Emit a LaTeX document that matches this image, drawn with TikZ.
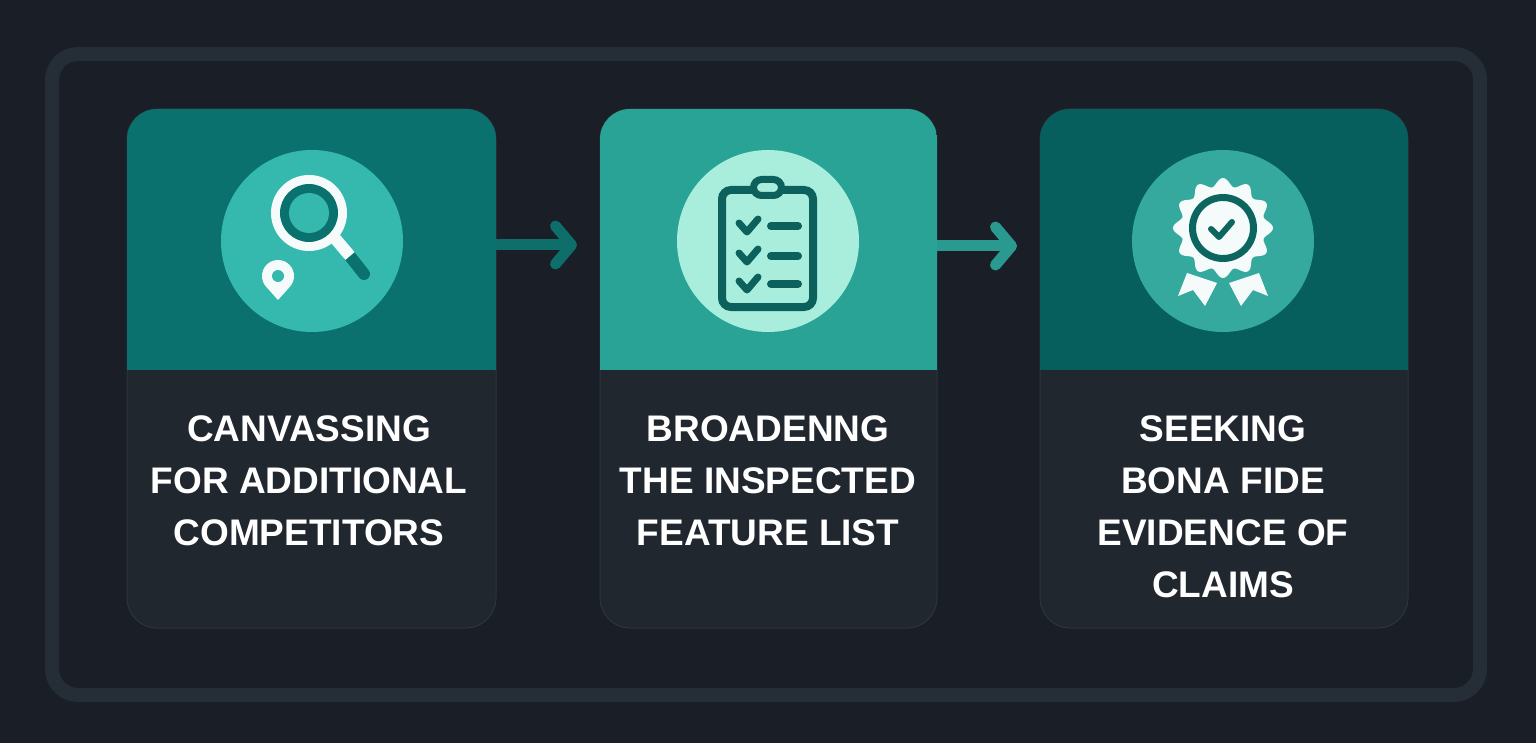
\documentclass[tikz,border=0pt]{standalone}
\usepackage{fontspec}
\newfontfamily\cardfont{Liberation Sans}
\usepackage{tikz}
\usetikzlibrary{positioning, arrows.meta}
\definecolor{bgcol}{HTML}{191E27}
\definecolor{framecol}{HTML}{252D36}
\definecolor{bodycol}{HTML}{20272F}
\definecolor{edgecol}{HTML}{2C343D}
\definecolor{headA}{HTML}{0B716E}
\definecolor{headB}{HTML}{2AA397}
\definecolor{headC}{HTML}{075F5D}
\definecolor{discA}{HTML}{35B9AE}
\definecolor{discB}{HTML}{A9EEDD}
\definecolor{discC}{HTML}{35A99E}
\definecolor{inkA}{HTML}{0B716E}
\definecolor{inkB}{HTML}{0C615D}
\definecolor{inkC}{HTML}{0D6560}
\definecolor{iconwhite}{HTML}{F4FBFA}
\definecolor{flowA}{HTML}{0E6E6A}
\definecolor{flowB}{HTML}{2A9A90}

\begin{document}
\begin{tikzpicture}[x=1pt, y=-1pt,
		card/.style={rectangle, rounded corners=30pt, minimum height=519pt, inner sep=0pt, outer sep=0pt, fill=bodycol, draw=edgecol, line width=1pt},
		disc/.style={circle, minimum size=182pt, inner sep=0pt},
		lbl/.style={text=white, font=\cardfont\bfseries\fontsize{37}{52}\selectfont, align=center, inner sep=0pt},
		flow/.style={line width=11pt, -{Straight Barb[length=16pt, width=38pt, round]}},
		ink/.style={line width=#1, line cap=round, line join=round},
		]
		\useasboundingbox (0,0) rectangle (1536,743);
		\fill[bgcol] (0,0) rectangle (1536,743);
		\draw[framecol, line width=14pt, rounded corners=26pt] (52,54) rectangle (1480,695);
		
		\foreach \i/\cx/\w/\dx/\hc/\dc in {1/311.5/369/312/headA/discA, 2/768.5/337/768/headB/discB, 3/1224/368/1223/headC/discC} {
			\node[card, minimum width=\w pt] (card\i) at (\cx, 368.5) {};
			\begin{scope}
				\clip[rounded corners=30pt] (card\i.north west) rectangle (card\i.south east);
				\fill[\hc] (card\i.north west) rectangle ([yshift=-261pt]card\i.north east);
			\end{scope}
			\node[disc, fill=\dc] (circ\i) at (\dx, 241) {};
		}
		
		\draw[flow, flowA] ([yshift=-136pt]card1.north east) -- ([xshift=-23pt, yshift=-136pt]card2.north west);
		\draw[flow, flowB] ([yshift=-137pt]card2.north east) -- ([xshift=-23pt, yshift=-137pt]card3.north west);
		
		% magnifier and pin
		\draw[inkA, line width=12pt, line cap=round] (349,255) -- (364,274);
		\draw[iconwhite, line width=12pt] (333,236) -- (350,256);
		\fill[iconwhite] (309,213) circle (38);
		\fill[inkA] (309,213) circle (29);
		\fill[discA] (309,213) circle (20);
		\fill[iconwhite] (278,276) ++(138:16) arc[start angle=138, end angle=402, radius=16] -- (278,300) -- cycle;
		\fill[discA] (278,276) circle (6);
		
		% clipboard
		\draw[inkB, line width=8pt, rounded corners=9pt, fill=discB] (722,190) rectangle (813,307);
		\draw[inkB, line width=7pt, rounded corners=8pt, fill=discB] (753.5,179.5) rectangle (781.5,195.5);
		\foreach \row in {226,256,284} {
			\draw[inkB, ink=7pt] (739,\row-3) -- (747,\row+6) -- (758,\row-7);
			\draw[inkB, ink=8pt] (771,\row) -- (798,\row);
		}
		
		% badge
		\fill[iconwhite] (1187,273) -- (1178,296) -- (1193,290) -- (1205,306) -- (1217,283) -- cycle;
		\fill[iconwhite] (1259,273) -- (1268,296) -- (1253,290) -- (1241,306) -- (1229,283) -- cycle;
		\fill[iconwhite] plot[domain=0:360, samples=181] ({1223+(46+4*cos(12*\x))*cos(\x)}, {228+(46+4*cos(12*\x))*sin(\x)}) -- cycle;
		\draw[inkC, line width=7pt] (1223,228) circle (30.5);
		\draw[inkC, ink=6pt] (1211,229) -- (1219,237) -- (1232,222);
		
		\node[lbl, below=174pt of circ1.center, xshift=-3pt] (lbl1) {CANVASSING\\FOR ADDITIONAL\\COMPETITORS};
		\node[lbl, below=174pt of circ2.center] (lbl2) {BROADENNG\\THE INSPECTED\\FEATURE LIST};
		\node[lbl, below=174pt of circ3.center] (lbl3) {SEEKING\\BONA FIDE\\EVIDENCE OF\\CLAIMS};
\end{tikzpicture}
\end{document}
